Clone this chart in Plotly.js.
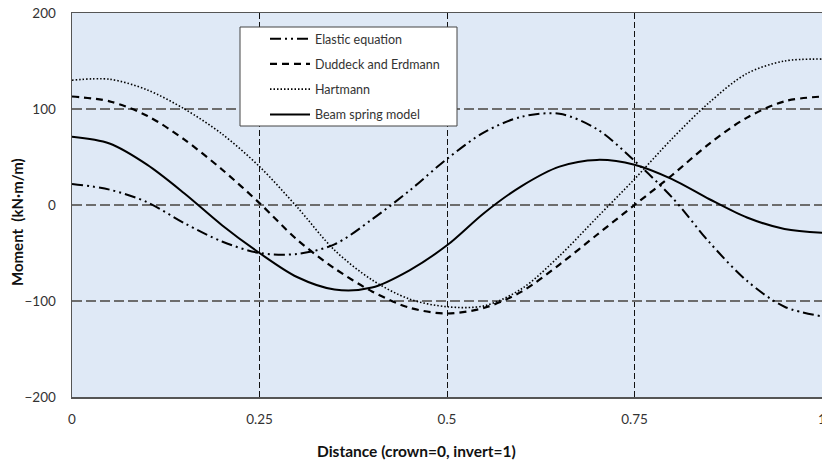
<!DOCTYPE html>
<html>
<head>
<meta charset="utf-8">
<script src="https://cdn.plot.ly/plotly-3.0.1.min.js"></script>
<style>html,body{margin:0;padding:0;background:#fff;}#chart{width:822px;height:463px;}</style>
</head>
<body>
<div id="chart"></div>
<script>
const distance = [0, 0.05, 0.1, 0.15, 0.2, 0.25, 0.3, 0.35, 0.4, 0.45, 0.5, 0.55, 0.6, 0.65, 0.7, 0.75, 0.8, 0.85, 0.9, 0.95, 1.0];
const elasticEquation = [22, 16, 3, -19, -38, -50, -51, -41, -15, 15, 48, 76, 92, 95, 79, 46, 8, -39, -79, -106, -116];
const duddeckErdmann = [113, 108, 93, 68, 37, 2, -36, -66, -90, -107, -113, -107, -90, -62, -31, 0, 31, 64, 91, 108, 113];
const hartmann = [130, 131, 120, 100, 74, 40, -2, -47, -78, -98, -106, -105, -87, -53, -13, 27, 69, 107, 137, 150, 152];
const beamSpring = [71, 64, 42, 12, -21, -50, -75, -88, -86, -68, -42, -8, 20, 40, 47, 42, 27, 6, -13, -25, -29];
const seriesNames = ["Elastic equation", "Duddeck and Erdmann", "Hartmann", "Beam spring model"];
const xTickVals = [0, 0.25, 0.5, 0.75, 1];
const xTickText = ["0", "0.25", "0.5", "0.75", "1"];
const yTickVals = [-200, -100, 0, 100, 200];

const font = "Lato, 'Open Sans', sans-serif";
const series = [elasticEquation, duddeckErdmann, hartmann, beamSpring];
const dashes = ["11px,4px,2px,4px,2px,4px", "7px,5px", "1.5px,2px", "solid"];
const widths = [2, 2.2, 1.6, 2];

const traces = series.map((ys, i) => ({
  x: distance, y: ys, name: seriesNames[i], type: "scatter", mode: "lines",
  line: {color: "#000", width: widths[i], dash: dashes[i], shape: "spline", smoothing: 0.9},
  legendgroup: "g" + i, hoverinfo: "skip"
}));

const L = 72, R = 822, T = 13, B = 397;
const px = v => (v - L) / (R - L);
const py = v => (B - v) / (B - T);

const layout = {
  width: 822, height: 463,
  margin: {l: L, r: 822 - R, t: T, b: 463 - B},
  paper_bgcolor: "#fff", plot_bgcolor: "#dfe9f6",
  font: {family: font, size: 12, color: "#333"},
  showlegend: true,
  legend: {
    x: px(265), y: py(24), xanchor: "left", yanchor: "top",
    bgcolor: "rgba(0,0,0,0)", borderwidth: 0,
    font: {family: font, size: 12.5, color: "#333"},
    itemwidth: 40, traceorder: "grouped", tracegroupgap: 6
  },
  xaxis: {
    range: [0, 1], tickvals: xTickVals, ticktext: xTickText,
    showgrid: true, gridcolor: "#111", gridwidth: 1, griddash: "6px,3px",
    zeroline: false, showline: true, linecolor: "#555", linewidth: 1.5, mirror: true,
    ticks: "", ticklabelstandoff: 9, ticklabeloverflow: "allow", tickfont: {size: 13.5, color: "#333"}
  },
  yaxis: {
    range: [-200, 200], tickvals: yTickVals,
    showgrid: true, gridcolor: "#6d6d6d", gridwidth: 1.3, griddash: "10px,4px",
    zeroline: false, showline: true, linecolor: "#555", linewidth: 1.5, mirror: true,
    ticks: "", ticklabelstandoff: 12, tickfont: {size: 13.5, color: "#333"}
  },
  shapes: [{
    type: "rect", xref: "paper", yref: "paper", layer: "above",
    x0: px(240), x1: px(457), y0: py(27), y1: py(126),
    fillcolor: "#fff", line: {color: "#444", width: 1}
  }],
  annotations: [
    {text: "<b>Distance (crown=0, invert=1)</b>", xref: "paper", yref: "paper",
     x: px(416), y: py(451), xanchor: "center", yanchor: "middle", showarrow: false,
     font: {family: font, size: 15.5, color: "#111"}},
    {text: "<b>Moment  (kN·m/m)</b>", xref: "paper", yref: "paper",
     x: px(17), y: py(222), xanchor: "center", yanchor: "middle", showarrow: false, textangle: -90,
     font: {family: font, size: 15, color: "#111"}}
  ]
};

Plotly.newPlot("chart", traces, layout, {staticPlot: true, displayModeBar: false});
</script>
</body>
</html>
